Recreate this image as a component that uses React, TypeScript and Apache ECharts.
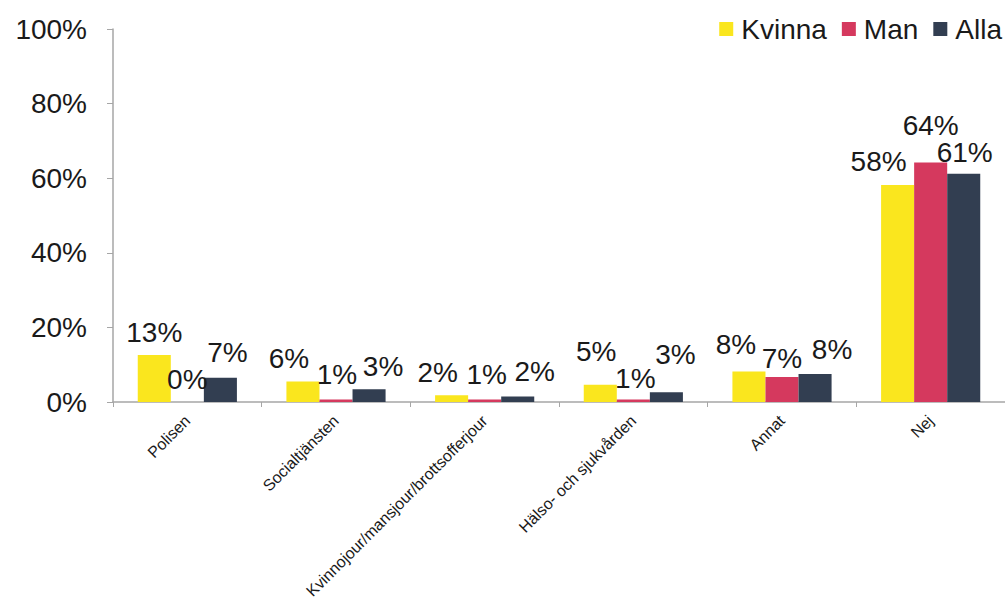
import React, { useEffect, useRef } from "react";
import * as echarts from "echarts";

const categories = [
  "Polisen",
  "Socialtjänsten",
  "Kvinnojour/mansjour/brottsofferjour",
  "Hälso- och sjukvården",
  "Annat",
  "Nej",
];
const seriesNames = ["Kvinna", "Man", "Alla"];
const kvinna = [12.6, 5.5, 1.8, 4.6, 8.2, 58.2];
const man = [0, 0.7, 0.7, 0.7, 6.7, 64.2];
const alla = [6.5, 3.4, 1.5, 2.6, 7.5, 61.2];
const yTicks = [0, 20, 40, 60, 80, 100];

const colors = ["#FAE61E", "#D5395E", "#323E51"];
// manual label nudges (px) as placed in the original
const labelDx = [
  [0, -14, -14, -4, -13, -19],
  [0, 1, 2, 2, 0, 0],
  [7, 14, 17, 9, 17, 1],
];
const labelLift = [
  [0, 0, 0, 10, 4, 0],
  [0, 2, 2, -2, -4, 14],
  [2, 0, 2, 15, 2, -2],
];

const FONT = "Liberation Sans, Arial, sans-serif";

export default function App() {
  const ref = useRef<HTMLDivElement>(null);
  useEffect(() => {
    if (!ref.current) return;
    const chart = echarts.init(ref.current, undefined, { renderer: "svg" });
    const all = [kvinna, man, alla];
    chart.setOption({
      animation: false,
      textStyle: { fontFamily: FONT },
      legend: {
        data: seriesNames,
        right: 3,
        top: 15,
        padding: 0,
        itemWidth: 14,
        itemHeight: 14,
        itemGap: 15,
        icon: "rect",
        textStyle: { fontSize: 28, color: "#1a1a1a", fontFamily: FONT, padding: [0, 0, 0, 3] },
      },
      grid: { left: 113, right: -8, top: 29, bottom: 201, containLabel: false },
      xAxis: {
        type: "category",
        data: categories,
        axisLine: { lineStyle: { color: "#A6A6A6", width: 1.5 } },
        axisTick: { show: true, length: 5, alignWithLabel: false, lineStyle: { color: "#A6A6A6" } },
        axisLabel: {
          rotate: 45,
          fontSize: 16,
          color: "#1a1a1a",
          margin: 16,
          interval: 0,
          fontFamily: FONT,
        },
      },
      yAxis: {
        type: "value",
        min: 0,
        max: 100,
        interval: 20,
        axisLine: { show: true, lineStyle: { color: "#A6A6A6", width: 1.5 } },
        axisTick: { show: true, length: 6, lineStyle: { color: "#A6A6A6" } },
        splitLine: { show: false },
        axisLabel: {
          fontSize: 28,
          color: "#1a1a1a",
          margin: 26,
          fontFamily: FONT,
          formatter: (v: number) => (yTicks.includes(v) ? v + "%" : ""),
        },
      },
      series: seriesNames.map((name, si) => ({
        name,
        type: "bar",
        barGap: "0%",
        barCategoryGap: "33.3%",
        itemStyle: { color: colors[si] },
        data: all[si].map((v, ci) => ({
          value: v,
          label: { offset: [labelDx[si][ci], -labelLift[si][ci]] },
        })),
        label: {
          show: true,
          position: "top",
          distance: 9,
          fontSize: 28,
          color: "#1a1a1a",
          fontFamily: FONT,
          formatter: (p: any) => Math.round(p.value) + "%",
        },
      })),
    });
    return () => chart.dispose();
  }, []);
  return (
    <div
      ref={ref}
      style={{ position: "absolute", left: 0, top: 0, width: 1005, height: 603, background: "#fff" }}
    />
  );
}
